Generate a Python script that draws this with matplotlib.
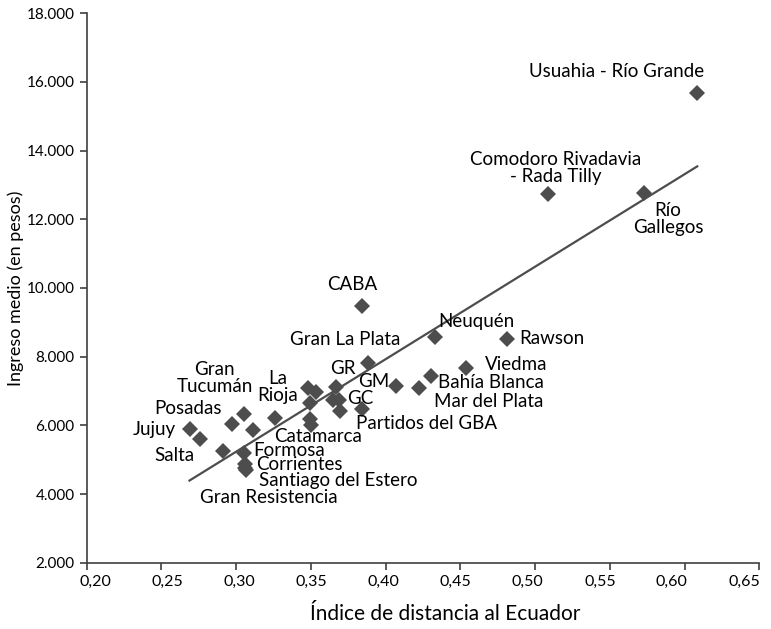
import matplotlib
matplotlib.use("Agg")
import matplotlib.pyplot as plt
import numpy as np
from matplotlib.ticker import FuncFormatter, MultipleLocator
from matplotlib.transforms import ScaledTranslation

plt.rcParams['font.family'] = ['Lato', 'DejaVu Sans']

# aglomerados: indice de distancia al Ecuador e ingreso medio
ciudades = [
    'Usuahia - Río Grande', 'Comodoro Rivadavia\n- Rada Tilly', 'Río\nGallegos',
    'CABA', 'Neuquén', 'Rawson', 'Gran La Plata', 'Viedma', 'Bahía Blanca',
    'Mar del Plata', 'GM', 'GR', 'GC', 'Partidos del GBA', 'La\nRioja',
    'Gran\nTucumán', 'Posadas', 'Jujuy', 'Salta', 'Catamarca', 'Formosa',
    'Corrientes', 'Santiago del Estero', 'Gran Resistencia',
    '', '', '', '', '', '', '', '',
]
indice = [
    0.6085, 0.509, 0.573,
    0.3845, 0.4329, 0.4811, 0.3883, 0.4541, 0.4305,
    0.4227, 0.4073, 0.3671, 0.3689, 0.3845, 0.3258,
    0.3051, 0.2975, 0.2689, 0.2756, 0.3504, 0.3054,
    0.3058, 0.3068, 0.3062,
    0.3481, 0.3533, 0.3493, 0.3493, 0.3649, 0.3698, 0.3113, 0.2912,
]
ingreso = [
    15670, 12738, 12758,
    9485, 8565, 8510, 7825, 7677, 7432,
    7080, 7138, 7127, 6739, 6468, 6206,
    6332, 6040, 5886, 5595, 6011, 5181,
    4861, 4686, 4770,
    7080, 6981, 6661, 6177, 6739, 6428, 5866, 5248,
]

# desplazamiento de cada etiqueta en pixeles (dx, dy hacia arriba)
offsets = [
    (-81, 22), (7, 26), (24, -26),
    (-10, 21), (42, 16), (45, 1), (-23, 23), (50, 3), (60, -6),
    (69, -13), (-23, 5), (7, 18), (21, 1), (64, -14), (3, 31),
    (-29, 36), (-44, 15), (-35, 0), (-25, -16), (7, -12), (45, 3),
    (55, 0), (92, -10), (24, -30),
]

x = np.array(indice)
y = np.array(ingreso)

fig = plt.figure(figsize=(7.71, 6.29), dpi=100)
ax = fig.add_axes([0.1122, 0.1054, 0.8726, 0.8735])

color = '#4d4d4d'
ax.plot(x, y, 'D', color=color, markersize=8, markeredgewidth=0, zorder=3)

# linea de tendencia
a, b = np.polyfit(x, y, 1)
xl = np.array([x.min(), x.max()])
ax.plot(xl, a * xl + b, color=color, linewidth=1.6, zorder=2)

for i, name in enumerate(ciudades):
    if not name:
        continue
    dx, dy = offsets[i]
    ax.annotate(name, (x[i], y[i]), xytext=(dx, dy), textcoords='offset pixels',
                ha='center', va='center', multialignment='center',
                fontsize=13.5, color='black', linespacing=1.0)

ax.set_xlim(0.20, 0.65)
ax.set_ylim(2000, 18000)
ax.set_xticks(np.arange(0.20, 0.651, 0.05))
ax.yaxis.set_major_locator(MultipleLocator(2000))
ax.xaxis.set_major_formatter(FuncFormatter(lambda v, p: f'{v:.2f}'.replace('.', ',')))
ax.yaxis.set_major_formatter(FuncFormatter(lambda v, p: f'{int(round(v)):,}'.replace(',', '.')))

for side in ['top', 'right']:
    ax.spines[side].set_visible(False)
for side in ['left', 'bottom']:
    ax.spines[side].set_color('#404040')
    ax.spines[side].set_linewidth(1.2)
ax.tick_params(direction='out', length=5, width=1.2, color='#404040', labelsize=11)
ax.tick_params(axis='x', labelsize=11.5)

# las etiquetas del eje x estan algo mas juntas que las marcas
for k, lab in enumerate(ax.get_xticklabels()):
    shift = (9 - 2.7 * k) / 100
    lab.set_transform(lab.get_transform() + ScaledTranslation(shift, 0, fig.dpi_scale_trans))

ax.set_xlabel('Índice de distancia al Ecuador', fontsize=15)
ax.xaxis.set_label_coords(0.533, -0.075)
ax.set_ylabel('Ingreso medio (en pesos)', fontsize=13, labelpad=2)

fig.savefig('out.png', dpi=100)
